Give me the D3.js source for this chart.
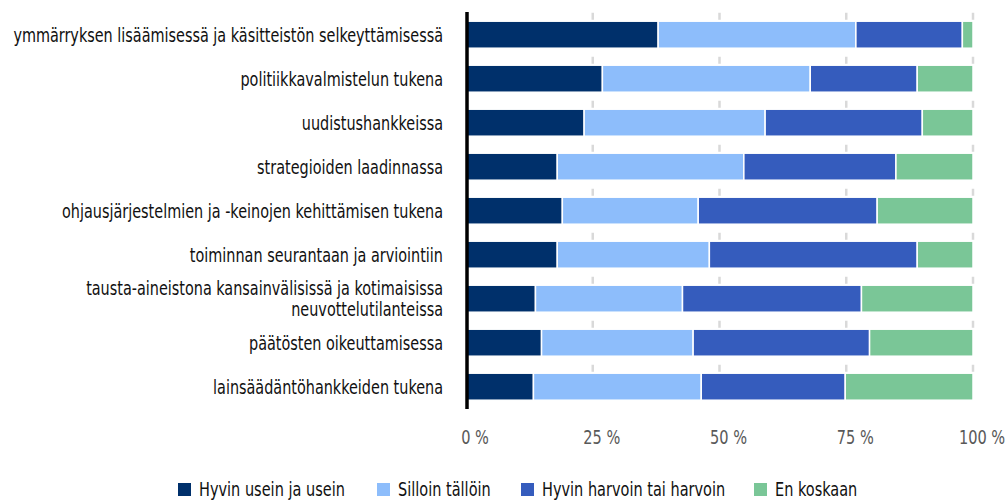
<!DOCTYPE html>
<html><head><meta charset="utf-8">
<script src="https://cdn.jsdelivr.net/npm/d3@7"></script>
<style>
body{margin:0;background:#fff;}
text{font-family:"Liberation Sans Narrow","DejaVu Sans Condensed","Roboto",sans-serif;}
</style></head>
<body><svg id="c" width="1007" height="500"></svg>
<script>
const categories = [
  "ymmärryksen lisäämisessä ja käsitteistön selkeyttämisessä",
  "politiikkavalmistelun tukena",
  "uudistushankkeissa",
  "strategioiden laadinnassa",
  "ohjausjärjestelmien ja -keinojen kehittämisen tukena",
  "toiminnan seurantaan ja arviointiin ",
  "tausta-aineistona kansainvälisissä ja kotimaisissa|neuvottelutilanteissa ",
  "päätösten oikeuttamisessa  ",
  "lainsäädäntöhankkeiden tukena"
];
const seriesNames = ["Hyvin usein ja usein","Silloin tällöin","Hyvin harvoin tai harvoin","En koskaan"];
const often   = [37.9, 26.9, 23.3, 18.0, 19.0, 18.0, 13.7, 14.9, 13.3];
const sometimes = [39.0, 41.0, 35.7, 36.8, 26.8, 30.0, 29.0, 29.9, 33.1];
const rarely  = [21.0, 21.1, 31.0, 30.0, 35.3, 41.0, 35.3, 34.8, 28.4];
const never   = [2.1, 11.0, 10.0, 15.2, 18.9, 11.0, 22.0, 20.4, 25.2];
const tickValues = [0, 25, 50, 75, 100];
const colors = ["#00306b", "#8dbdfb", "#355cbd", "#7ac697"];

const svg = d3.select("#c");
const x = d3.scaleLinear().domain([0, 100]).range([466, 973]);
const y = d3.scaleBand().domain(categories).range([12.7, 408.7]).paddingInner(0.386).paddingOuter(0.193);

const seriesData = [often, sometimes, rarely, never];
const rows = categories.map((c, i) => {
  const o = {cat: c};
  seriesNames.forEach((s, j) => o[s] = seriesData[j][i]);
  return o;
});
const stack = d3.stack().keys(seriesNames)(rows);

// gridlines
svg.append("g").selectAll("line").data(tickValues.slice(1)).join("line")
  .attr("x1", d => x(d)).attr("x2", d => x(d))
  .attr("y1", 12.7).attr("y2", 408.7)
  .attr("stroke", "#d9d9d9").attr("stroke-width", 2.5)
  .attr("stroke-dasharray", "7,37");

// bars
svg.append("g").selectAll("g").data(stack).join("g")
  .attr("fill", (d, i) => colors[i])
  .selectAll("rect").data(d => d).join("rect")
  .attr("x", d => x(d[0]))
  .attr("width", d => x(d[1]) - x(d[0]))
  .attr("y", d => y(d.data.cat))
  .attr("height", y.bandwidth())
  .attr("stroke", "#fff").attr("stroke-width", 1.5);

// axis line
svg.append("line").attr("x1", 467).attr("x2", 467).attr("y1", 12).attr("y2", 409)
  .attr("stroke", "#000").attr("stroke-width", 3.5);

// measuring helper (to condense the fallback font horizontally)
function widthOf(str, size) {
  const t = svg.append("text").attr("font-size", size).style("white-space", "pre").text(str);
  const w = t.node().getComputedTextLength();
  t.remove();
  return w;
}

// category labels
const labSize = 20;
const kLab = 430 / widthOf(categories[0], labSize);
const labOuter = svg.append("g").attr("transform", `translate(443,0) scale(${kLab},1)`);
const lab = labOuter.append("g").attr("font-size", labSize).attr("fill", "#111").attr("text-anchor", "end")
  .style("white-space", "pre");
categories.forEach(c => {
  const lines = c.split("|");
  const cy = y(c) + y.bandwidth() / 2;
  const t = lab.append("text").attr("y", cy - (lines.length - 1) * 10.5);
  lines.forEach((l, k) => {
    t.append("tspan").attr("x", 0).attr("dy", k === 0 ? "0.35em" : 21).text(l);
  });
});

// x tick labels
const tickSize = 19;
const kTick = 37 / widthOf("25 %", tickSize);
const tickG = svg.append("g").attr("font-size", tickSize).attr("fill", "#595959").attr("text-anchor", "middle");
tickValues.forEach(d => {
  tickG.append("text").attr("transform", `translate(${x(d) + 9},444) scale(${kTick},1)`).text(d + " %");
});

// legend
const legSize = 20;
const kLeg = 146 / widthOf(seriesNames[0], legSize);
const legX = [178, 377, 521, 754];
const leg = svg.append("g").attr("font-size", legSize).attr("fill", "#111");
seriesNames.forEach((s, i) => {
  leg.append("rect").attr("x", legX[i]).attr("y", 483).attr("width", 13).attr("height", 13).attr("fill", colors[i]);
  leg.append("text").attr("transform", `translate(${legX[i] + 21},496) scale(${kLeg},1)`).text(s);
});
</script></body></html>
